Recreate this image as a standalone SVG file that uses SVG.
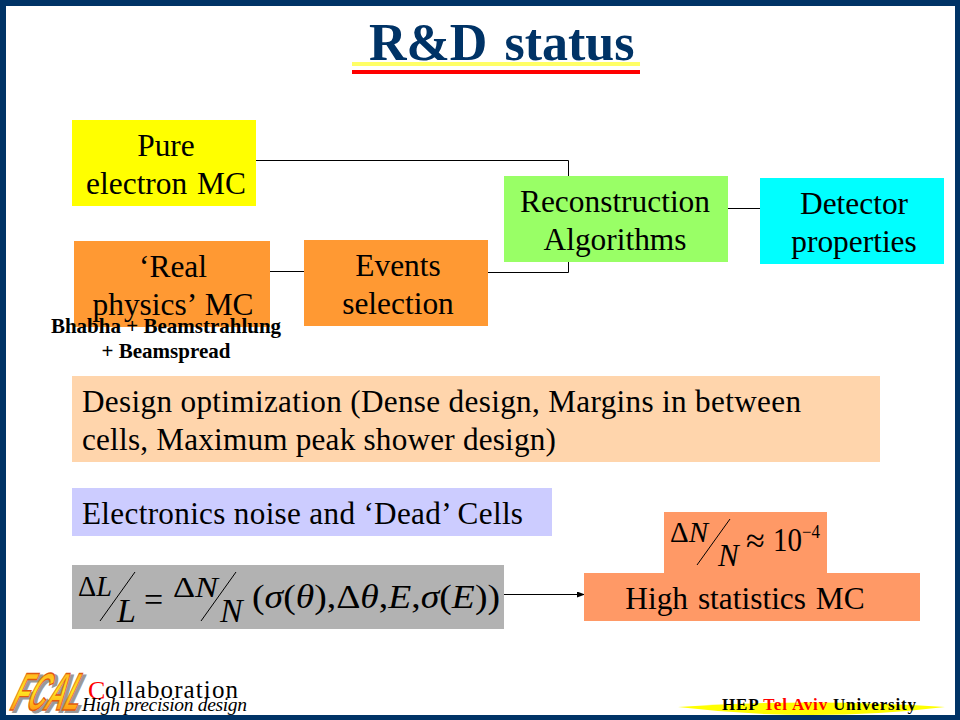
<svg xmlns="http://www.w3.org/2000/svg" width="960" height="720" viewBox="0 0 960 720">
<defs>
<marker id="arrow" markerWidth="8" markerHeight="6" refX="7" refY="3" orient="auto" markerUnits="userSpaceOnUse"><path d="M0,0 L8,3 L0,6 Z" fill="#000"/></marker>
<linearGradient id="fcal" x1="0" y1="0" x2="0" y2="1"><stop offset="0" stop-color="#ff9a20"/><stop offset="0.5" stop-color="#ffe820"/><stop offset="1" stop-color="#ff6a10"/></linearGradient>
</defs>
<style>
text{font-family:"Liberation Serif","Times New Roman",serif;fill:#000}
.t{font-size:31.4px;text-anchor:middle;word-spacing:2px}
.l{font-size:31.2px}
.b{font-size:21px;font-weight:bold;text-anchor:middle}
.m{font-style:italic}
.u{font-style:normal}
.conn{fill:none;stroke:#000;stroke-width:1}
.sl{fill:none;stroke:#000;stroke-width:1}
.logo{font-family:"Liberation Sans",Arial,sans-serif;font-size:53px;font-weight:bold}
</style>
<rect x="0" y="0" width="960" height="720" fill="#003366"/>
<rect x="6" y="6" width="949" height="709" fill="#fff"/>

<g id="title">
<rect x="352" y="62" width="288" height="4" fill="#ffff66"/>
<rect x="352" y="70" width="288" height="4" fill="#ff0000"/>
<text x="369" y="60" font-size="52" font-weight="bold" word-spacing="4" style="fill:#003366">R&amp;D status</text>
</g>

<g id="connectors">
<path class="conn" d="M256,160.500 H568.500 V176"/>
<path class="conn" d="M488,272.500 H568.500 V262"/>
<path class="conn" d="M270,271.500 H304"/>
<path class="conn" d="M728,208.500 H760"/>
<path class="conn" d="M504,594.500 H584" marker-end="url(#arrow)"/>
</g>

<g id="pure-mc">
<rect x="72" y="120" width="184" height="86" fill="#ffff00"/>
<text class="t" x="166" y="156">Pure</text>
<text class="t" x="166" y="194">electron MC</text>
</g>
<g id="real-mc">
<rect x="74" y="241" width="196" height="86" fill="#ff9933"/>
<text class="t" x="173" y="277">‘Real</text>
<text class="t" x="173" y="315">physics’ MC</text>
</g>
<g id="events">
<rect x="304" y="240" width="184" height="86" fill="#ff9933"/>
<text class="t" x="398" y="276">Events</text>
<text class="t" x="398" y="314">selection</text>
</g>
<g id="reco">
<rect x="504" y="176" width="224" height="86" fill="#99ff66"/>
<text class="t" x="615" y="212">Reconstruction</text>
<text class="t" x="615" y="250">Algorithms</text>
</g>
<g id="detector">
<rect x="760" y="178" width="184" height="86" fill="#00ffff"/>
<text class="t" x="854" y="214">Detector</text>
<text class="t" x="854" y="252">properties</text>
</g>
<g id="beam-note">
<text class="b" x="166" y="333">Bhabha + Beamstrahlung</text>
<text class="b" x="166" y="358">+ Beamspread</text>
</g>
<g id="design">
<rect x="72" y="376" width="808" height="86" fill="#ffd5ac"/>
<text class="l" x="82" y="412" textLength="719">Design optimization (Dense design, Margins in between</text>
<text class="l" x="82" y="450" textLength="474">cells, Maximum peak shower design)</text>
</g>
<g id="electronics">
<rect x="72" y="488" width="480" height="48" fill="#ccccff"/>
<text class="l" x="82" y="524" textLength="441">Electronics noise and ‘Dead’ Cells</text>
</g>
<g id="lumi-formula">
<rect x="72" y="565" width="432" height="64" fill="#b2b2b2"/>
<text class="m" x="78" y="596" font-size="29" textLength="34" lengthAdjust="spacingAndGlyphs"><tspan class="u">Δ</tspan>L</text>
<path class="sl" d="M135,572 L100,621 M236,572 L201,621"/>
<text class="m" x="117" y="622" font-size="34">L</text>
<text x="144" y="611" font-size="34">=</text>
<text class="m" x="173" y="597" font-size="29" textLength="45" lengthAdjust="spacingAndGlyphs"><tspan class="u">Δ</tspan>N</text>
<text class="m" x="220" y="622" font-size="34">N</text>
<text class="m" x="252" y="608" font-size="34" textLength="248" lengthAdjust="spacingAndGlyphs"><tspan class="u">(</tspan>σ<tspan class="u">(</tspan>θ<tspan class="u">),Δ</tspan>θ<tspan class="u">,</tspan>E<tspan class="u">,</tspan>σ<tspan class="u">(</tspan>E<tspan class="u">))</tspan></text>
</g>
<g id="high-stats">
<rect x="664" y="512" width="163" height="62" fill="#ff9966"/>
<rect x="584" y="573" width="336" height="48" fill="#ff9966"/>
<text class="m" x="670" y="542" font-size="29" textLength="38" lengthAdjust="spacingAndGlyphs"><tspan class="u">Δ</tspan>N</text>
<path class="sl" d="M730,519 L697,565"/>
<text class="m" x="718" y="566" font-size="31">N</text>
<text x="746" y="552" font-size="34">≈</text>
<text x="773" y="551" font-size="34" textLength="29" lengthAdjust="spacingAndGlyphs">10</text>
<text x="802" y="538" font-size="18" textLength="18" lengthAdjust="spacingAndGlyphs">−4</text>
<text class="t" x="745" y="609">High statistics MC</text>
</g>
<g id="fcal-logo">
<text class="logo" transform="translate(11,712) skewX(-25)" textLength="68" lengthAdjust="spacingAndGlyphs" stroke="#999" stroke-width="2" style="fill:#999">FCAL</text>
<text class="logo" transform="translate(8,710) skewX(-25)" textLength="68" lengthAdjust="spacingAndGlyphs" stroke="#e05a10" stroke-width="1.500" style="fill:url(#fcal)">FCAL</text>
<text x="88" y="699" font-size="26" style="fill:#ff0000">C</text>
<text x="105" y="698" font-size="25" textLength="133">ollaboration</text>
<text class="m" x="82" y="711" font-size="19.500" textLength="165">High precision design</text>
</g>
<g id="hep">
<path d="M678,707 Q812,698 945,707 Q812,723 678,707 Z" fill="#ffff00"/>
<text x="722" y="710" font-size="17" font-weight="bold" textLength="194">HEP <tspan style="fill:#ff0000">Tel Aviv</tspan> University</text>
</g>
</svg>
